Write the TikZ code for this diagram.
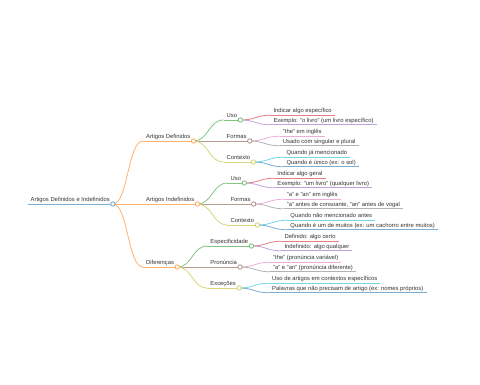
\documentclass[tikz,border=0pt]{standalone}
\usepackage{fontspec}
\setmainfont{Liberation Sans}
\usetikzlibrary{calc}
\definecolor{cBlue}{HTML}{1F77B4}
\definecolor{cOrange}{HTML}{FF7F0E}
\definecolor{cGreen}{HTML}{2CA02C}
\definecolor{cRed}{HTML}{D62728}
\definecolor{cPurple}{HTML}{9467BD}
\definecolor{cBrown}{HTML}{8C564B}
\definecolor{cPink}{HTML}{E377C2}
\definecolor{cGray}{HTML}{7F7F7F}
\definecolor{cOlive}{HTML}{BCBD22}
\definecolor{cCyan}{HTML}{17BECF}
\definecolor{txt}{HTML}{333333}
\tikzset{
  lbl/.style={anchor=south west, inner xsep=3pt, inner ysep=2.4pt, text depth=0pt,
    font=\fontsize{5.85}{7}\selectfont, text=txt},
  wire/.style={line width=0.8pt, draw=#1!60!white},
  dot/.style={circle, draw=#1!70!white, fill=white, line width=0.75pt,
    minimum size=4.4pt, inner sep=0pt},
}
\newcommand\lnk[3]{\draw[wire=#3] (#1.south east) .. controls +(15,0) and +(-15,0) .. (#2.south west);}
\newcommand\uline[2]{\draw[wire=#2] (#1.south west) -- (#1.south east);}
\newcommand\mmdot[2]{\node[dot=#2] at (#1.south east) {};}
\begin{document}
\begin{tikzpicture}[x=1pt,y=-1pt]
\useasboundingbox (0,0) rectangle (480,384);
% root
\node[lbl] (root) at (27.5,204) {Artigos Definidos e Indefinidos};
% level 1
\node[lbl] (def) at ($(root.south east)+(30,-63)$) {Artigos Definidos};
\node[lbl] (ind) at ($(root.south east)+(30,0)$) {Artigos Indefinidos};
\node[lbl] (dif) at ($(root.south east)+(30,63)$) {Diferenças};
% level 2
\node[lbl] (u1) at ($(def.south east)+(30,-21)$) {Uso};
\node[lbl] (f1) at ($(def.south east)+(30,0)$) {Formas};
\node[lbl] (c1) at ($(def.south east)+(30,21)$) {Contexto};
\node[lbl] (u2) at ($(ind.south east)+(30,-21)$) {Uso};
\node[lbl] (f2) at ($(ind.south east)+(30,0)$) {Formas};
\node[lbl] (c2) at ($(ind.south east)+(30,21)$) {Contexto};
\node[lbl] (e3) at ($(dif.south east)+(30,-21)$) {Especificidade};
\node[lbl] (p3) at ($(dif.south east)+(30,0)$) {Pronúncia};
\node[lbl] (x3) at ($(dif.south east)+(30,21)$) {Exceções};
% leaves
\node[lbl] (u1a) at ($(u1.south east)+(30,-4.75)$) {Indicar algo específico};
\node[lbl] (u1b) at ($(u1.south east)+(30,4.75)$) {Exemplo: "o livro" (um livro específico)};
\node[lbl] (f1a) at ($(f1.south east)+(30,-4.75)$) {"the" em inglês};
\node[lbl] (f1b) at ($(f1.south east)+(30,4.75)$) {Usado com singular e plural};
\node[lbl] (c1a) at ($(c1.south east)+(30,-4.75)$) {Quando já mencionado};
\node[lbl] (c1b) at ($(c1.south east)+(30,4.75)$) {Quando é único (ex: o sol)};
\node[lbl] (u2a) at ($(u2.south east)+(30,-4.75)$) {Indicar algo geral};
\node[lbl] (u2b) at ($(u2.south east)+(30,4.75)$) {Exemplo: "um livro" (qualquer livro)};
\node[lbl] (f2a) at ($(f2.south east)+(30,-4.75)$) {"a" e "an" em inglês};
\node[lbl] (f2b) at ($(f2.south east)+(30,4.75)$) {"a" antes de consoante, "an" antes de vogal};
\node[lbl] (c2a) at ($(c2.south east)+(30,-4.75)$) {Quando não mencionado antes};
\node[lbl] (c2b) at ($(c2.south east)+(30,4.75)$) {Quando é um de muitos (ex: um cachorro entre muitos)};
\node[lbl] (e3a) at ($(e3.south east)+(30,-4.75)$) {Definido: algo certo};
\node[lbl] (e3b) at ($(e3.south east)+(30,4.75)$) {Indefinido: algo qualquer};
\node[lbl] (p3a) at ($(p3.south east)+(30,-4.75)$) {"the" (pronúncia variável)};
\node[lbl] (p3b) at ($(p3.south east)+(30,4.75)$) {"a" e "an" (pronúncia diferente)};
\node[lbl] (x3a) at ($(x3.south east)+(30,-4.75)$) {Uso de artigos em contextos específicos};
\node[lbl] (x3b) at ($(x3.south east)+(30,4.75)$) {Palavras que não precisam de artigo (ex: nomes próprios)};
% links
\lnk{root}{def}{cOrange}\lnk{root}{ind}{cOrange}\lnk{root}{dif}{cOrange}
\lnk{def}{u1}{cGreen}\lnk{def}{f1}{cBrown}\lnk{def}{c1}{cOlive}
\lnk{ind}{u2}{cGreen}\lnk{ind}{f2}{cBrown}\lnk{ind}{c2}{cOlive}
\lnk{dif}{e3}{cGreen}\lnk{dif}{p3}{cBrown}\lnk{dif}{x3}{cOlive}
\lnk{u1}{u1a}{cRed}\lnk{u1}{u1b}{cPurple}
\lnk{f1}{f1a}{cPink}\lnk{f1}{f1b}{cGray}
\lnk{c1}{c1a}{cCyan}\lnk{c1}{c1b}{cBlue}
\lnk{u2}{u2a}{cRed}\lnk{u2}{u2b}{cPurple}
\lnk{f2}{f2a}{cPink}\lnk{f2}{f2b}{cGray}
\lnk{c2}{c2a}{cCyan}\lnk{c2}{c2b}{cBlue}
\lnk{e3}{e3a}{cRed}\lnk{e3}{e3b}{cPurple}
\lnk{p3}{p3a}{cPink}\lnk{p3}{p3b}{cGray}
\lnk{x3}{x3a}{cCyan}\lnk{x3}{x3b}{cBlue}
% underlines
\uline{root}{cBlue}
\uline{def}{cOrange}\uline{ind}{cOrange}\uline{dif}{cOrange}
\uline{u1}{cGreen}\uline{f1}{cBrown}\uline{c1}{cOlive}
\uline{u2}{cGreen}\uline{f2}{cBrown}\uline{c2}{cOlive}
\uline{e3}{cGreen}\uline{p3}{cBrown}\uline{x3}{cOlive}
\uline{u1a}{cRed}\uline{u1b}{cPurple}\uline{f1a}{cPink}\uline{f1b}{cGray}
\uline{c1a}{cCyan}\uline{c1b}{cBlue}
\uline{u2a}{cRed}\uline{u2b}{cPurple}\uline{f2a}{cPink}\uline{f2b}{cGray}
\uline{c2a}{cCyan}\uline{c2b}{cBlue}
\uline{e3a}{cRed}\uline{e3b}{cPurple}\uline{p3a}{cPink}\uline{p3b}{cGray}
\uline{x3a}{cCyan}\uline{x3b}{cBlue}
% circles
\mmdot{root}{cBlue}
\mmdot{def}{cOrange}\mmdot{ind}{cOrange}\mmdot{dif}{cOrange}
\mmdot{u1}{cGreen}\mmdot{f1}{cBrown}\mmdot{c1}{cOlive}
\mmdot{u2}{cGreen}\mmdot{f2}{cBrown}\mmdot{c2}{cOlive}
\mmdot{e3}{cGreen}\mmdot{p3}{cBrown}\mmdot{x3}{cOlive}
\end{tikzpicture}
\end{document}
